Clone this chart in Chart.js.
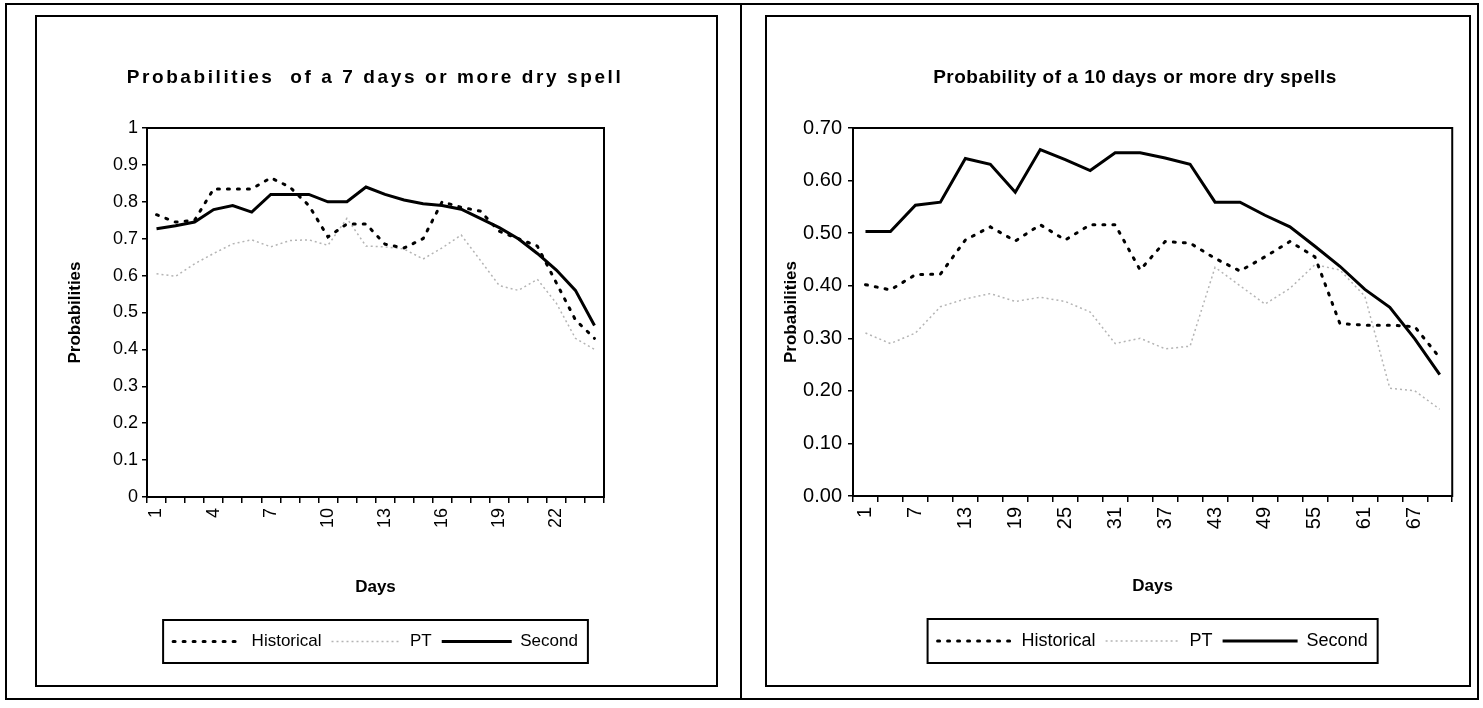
<!DOCTYPE html>
<html>
<head>
<meta charset="utf-8">
<script src="https://cdn.jsdelivr.net/npm/chart.js@4.4.1/dist/chart.umd.min.js"></script>
<style>
  html, body { margin: 0; padding: 0; background: #fff; }
  body { width: 1483px; height: 708px; position: relative; overflow: hidden; }
  .frame { position: absolute; left: 5px; top: 3px; width: 1474px; height: 697px; border: 2px solid #000; box-sizing: border-box; }
  .divider { position: absolute; left: 740px; top: 3px; width: 2px; height: 697px; background: #000; }
  .box { position: absolute; border: 2px solid #000; box-sizing: border-box; background: #fff; }
  .box canvas { display: block; }
</style>
</head>
<body>
<div class="frame"></div>
<div class="divider"></div>
<div class="box" style="left:35px;top:15px;width:683px;height:672px;"><canvas id="c1" width="679" height="668"></canvas></div>
<div class="box" style="left:765px;top:15px;width:706px;height:672px;"><canvas id="c2" width="702" height="668"></canvas></div>
<script>
// 7 days or more dry spell
const days7 = [1, 2, 3, 4, 5, 6, 7, 8, 9, 10, 11, 12, 13, 14, 15, 16, 17, 18, 19, 20, 21, 22, 23, 24];
const hist7 = [0.765, 0.745, 0.75, 0.835, 0.835, 0.835, 0.865, 0.84, 0.79, 0.705, 0.74, 0.74, 0.685, 0.675, 0.70, 0.80, 0.785, 0.775, 0.72, 0.70, 0.68, 0.58, 0.48, 0.43];
const pt7 = [0.605, 0.598, 0.632, 0.66, 0.686, 0.697, 0.678, 0.695, 0.697, 0.682, 0.755, 0.68, 0.678, 0.672, 0.645, 0.675, 0.71, 0.642, 0.573, 0.56, 0.59, 0.525, 0.43, 0.40];
const second7 = [0.727, 0.735, 0.745, 0.779, 0.79, 0.772, 0.82, 0.82, 0.82, 0.80, 0.80, 0.84, 0.82, 0.805, 0.795, 0.79, 0.78, 0.755, 0.73, 0.70, 0.66, 0.615, 0.56, 0.465];

// 10 days or more dry spells
const days10 = [1, 4, 7, 10, 13, 16, 19, 22, 25, 28, 31, 34, 37, 40, 43, 46, 49, 52, 55, 58, 61, 64, 67, 70];
const hist10 = [0.402, 0.392, 0.421, 0.422, 0.487, 0.512, 0.485, 0.516, 0.487, 0.516, 0.516, 0.43, 0.484, 0.481, 0.452, 0.428, 0.455, 0.484, 0.455, 0.328, 0.325, 0.325, 0.322, 0.263];
const pt10 = [0.31, 0.29, 0.31, 0.36, 0.375, 0.385, 0.37, 0.378, 0.37, 0.35, 0.29, 0.30, 0.28, 0.285, 0.435, 0.40, 0.365, 0.395, 0.44, 0.43, 0.38, 0.205, 0.20, 0.165];
const second10 = [0.503, 0.503, 0.553, 0.559, 0.642, 0.631, 0.578, 0.659, 0.64, 0.619, 0.653, 0.653, 0.643, 0.631, 0.559, 0.559, 0.534, 0.512, 0.475, 0.437, 0.393, 0.359, 0.299, 0.231];

const FONT = "'Liberation Sans', Arial, sans-serif";

// box around the plot area, like the Excel frame
const plotFrame = {
    id: 'plotFrame',
    beforeDatasetsDraw(chart) {
        const { ctx, chartArea: a } = chart;
        ctx.save();
        ctx.strokeStyle = '#000';
        ctx.lineWidth = 2;
        ctx.strokeRect(a.left, a.top, a.right - a.left, a.bottom - a.top);
        ctx.restore();
    }
};

// rectangle round the legend items
const legendBorder = {
    id: 'legendBorder',
    afterDraw(chart, args, opts) {
        const boxes = chart.legend && chart.legend.legendHitBoxes;
        if (!boxes || !boxes.length) return;
        const l = Math.min(...boxes.map(b => b.left)) - opts.padX;
        const r = Math.max(...boxes.map(b => b.left + b.width)) + opts.padX;
        const t = boxes[0].top - opts.padY;
        const h = boxes[0].height + opts.padY * 2;
        const ctx = chart.ctx;
        ctx.save();
        ctx.strokeStyle = '#000';
        ctx.lineWidth = 2;
        ctx.strokeRect(l, t, r - l, h);
        ctx.restore();
    }
};

// chart title drawn by hand so the letter spacing of the scan can be kept
const spacedTitle = {
    id: 'spacedTitle',
    afterDraw(chart, args, o) {
        const ctx = chart.ctx;
        ctx.save();
        ctx.font = 'bold ' + o.size + 'px ' + FONT;
        ctx.fillStyle = '#000';
        ctx.textAlign = 'center';
        ctx.textBaseline = 'middle';
        if ('letterSpacing' in ctx) ctx.letterSpacing = o.spacing + 'px';
        ctx.fillText(o.text, o.x, o.y);
        ctx.restore();
    }
};

// legend samples take the dash of their line
function legendItems(chart) {
    return Chart.defaults.plugins.legend.labels.generateLabels(chart).map(item => {
        const ds = chart.data.datasets[item.datasetIndex];
        item.lineDash = ds.borderDash || [];
        item.lineCap = ds.borderCapStyle || 'butt';
        item.lineWidth = ds.borderWidth;
        item.strokeStyle = ds.borderColor;
        return item;
    });
}

function makeChart(id, cfg) {
    const datasets = [
        { label: 'Historical', data: cfg.hist, borderColor: '#000', borderWidth: 3, borderDash: [2, 8], borderCapStyle: 'round' },
        { label: 'PT', data: cfg.pt, borderColor: '#b4b4b4', borderWidth: 1.5, borderDash: [2, 3] },
        { label: 'Second', data: cfg.second, borderColor: '#000', borderWidth: 3 }
    ];
    return new Chart(document.getElementById(id), {
        type: 'line',
        data: { labels: cfg.labels, datasets: datasets },
        options: {
            responsive: false,
            animation: false,
            elements: { point: { radius: 0 }, line: { tension: 0, fill: false } },
            layout: { padding: cfg.padding },
            plugins: {
                title: { display: false },
                spacedTitle: cfg.title,
                legend: {
                    position: 'bottom', fullSize: false,
                    labels: {
                        color: '#000', usePointStyle: true, pointStyle: 'line', pointStyleWidth: cfg.sampleW,
                        padding: 10, font: { family: FONT, size: cfg.legendSize },
                        generateLabels: legendItems
                    }
                },
                legendBorder: { padX: 10, padY: 13 },
                tooltip: { enabled: false }
            },
            scales: {
                x: {
                    offset: true,
                    afterFit: s => { s.height = 126; },
                    border: { display: false },
                    grid: { offset: true, drawOnChartArea: false, drawTicks: true, tickLength: 6, tickColor: '#000', lineWidth: 1.5 },
                    ticks: {
                        autoSkip: false, minRotation: 90, maxRotation: 90, padding: 5, color: '#000',
                        font: { family: FONT, size: cfg.tickSize },
                        callback: function (v, i) { return i % cfg.every === 0 ? this.getLabelForValue(v) : ''; }
                    },
                    title: { display: true, text: 'Days', color: '#000', font: { family: FONT, size: 17, weight: 'bold' }, padding: { top: 0, bottom: 25 } }
                },
                y: {
                    min: 0, max: cfg.max,
                    afterFit: s => { s.width = cfg.yWidth; },
                    border: { display: false },
                    grid: { drawOnChartArea: false, drawTicks: true, tickLength: 5, tickColor: '#000', lineWidth: 1.5 },
                    ticks: {
                        stepSize: 0.1, padding: cfg.yPad, color: '#000',
                        font: { family: FONT, size: cfg.tickSize },
                        callback: cfg.yFormat
                    },
                    title: { display: true, text: 'Probabilities', color: '#000', font: { family: FONT, size: 17, weight: 'bold' }, padding: { top: cfg.yTitleGap, bottom: 0 } }
                }
            }
        },
        plugins: [plotFrame, legendBorder, spacedTitle]
    });
}

makeChart('c1', {
    labels: days7, hist: hist7, pt: pt7, second: second7,
    title: { text: 'Probabilities  of a 7 days or more dry spell', x: 338, y: 61, size: 19, spacing: 2.6 },
    padding: { top: 111, right: 112, bottom: 25, left: 0 },
    sampleW: 70, legendSize: 17, tickSize: 18, every: 3, max: 1, yWidth: 110, yPad: 4, yTitleGap: 28,
    yFormat: v => String(Math.round(v * 10) / 10)
});

makeChart('c2', {
    labels: days10, hist: hist10, pt: pt10, second: second10,
    title: { text: 'Probability of a 10 days or more dry spells', x: 368, y: 61, size: 19, spacing: 0.5 },
    padding: { top: 111, right: 12, bottom: 25, left: 0 },
    sampleW: 75, legendSize: 18, tickSize: 20, every: 2, max: 0.7, yWidth: 86, yPad: 6, yTitleGap: 14,
    yFormat: v => v.toFixed(2)
});
</script>
</body>
</html>
